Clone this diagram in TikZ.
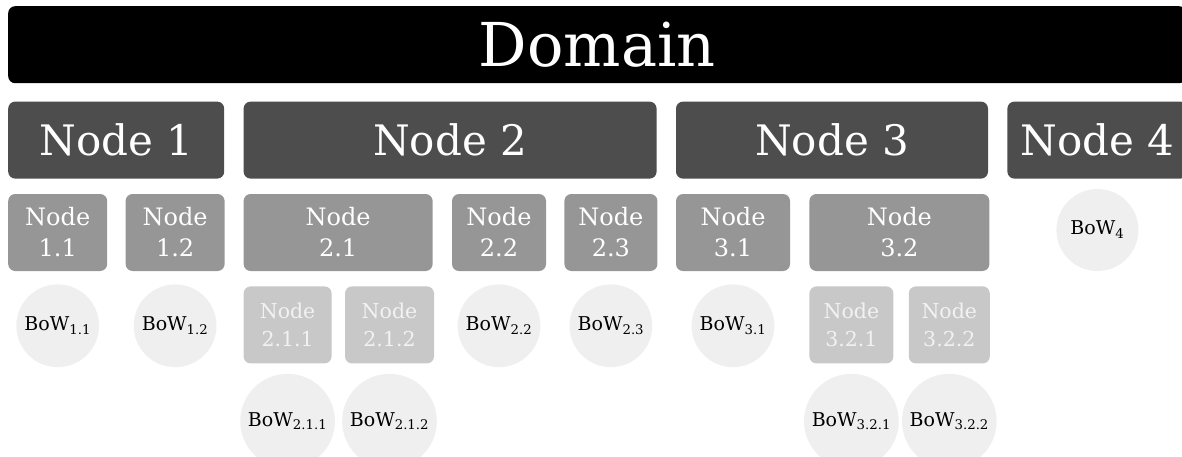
\documentclass[tikz,border=0pt]{standalone}
\usepackage{fontspec}
\setmainfont{DejaVu Serif}
\usetikzlibrary{positioning}

\definecolor{levelone}{HTML}{4D4D4D}
\definecolor{leveltwo}{HTML}{969696}
\definecolor{levelthree}{HTML}{C8C8C8}
\definecolor{leaftext}{HTML}{F2F2F2}
\definecolor{bowfill}{HTML}{EFEFEF}

\begin{document}
\begin{tikzpicture}[
    x=1pt, y=1pt,
    box/.style={rounded corners=7pt, inner sep=2pt, minimum height=77pt,
      align=center, text=white},
    domainbox/.style={box, fill=black, font=\fontsize{60.5}{70}\selectfont},
    lvlone/.style={box, fill=levelone, font=\fontsize{42}{50}\selectfont},
    lvltwo/.style={box, fill=leveltwo, font=\fontsize{24}{31}\selectfont},
    lvlthree/.style={box, fill=levelthree, text=leaftext,
      font=\fontsize{20.5}{27.7}\selectfont},
    bow/.style={circle, fill=bowfill, inner sep=5.5pt, minimum size=82pt,
      font=\fontsize{19}{23}\selectfont},
  ]
  \useasboundingbox (0,0) rectangle (1182,-456);
  \clip (0,0) rectangle (1182,-456);

  \node[domainbox, minimum width=1178pt, anchor=north west] (dom) at (8,-6) {Domain};

  \node[lvlone, minimum width=216pt, below right=18pt and 0pt of dom.south west] (n1) {Node 1};
  \node[lvlone, minimum width=413pt, right=19pt of n1] (n2) {Node 2};
  \node[lvlone, minimum width=312pt, right=19pt of n2] (n3) {Node 3};
  \node[lvlone, minimum width=180pt, right=19pt of n3] (n4) {Node 4};

  \node[lvltwo, minimum width=99pt, below right=15pt and 0pt of n1.south west] (n11) {Node\\1.1};
  \node[lvltwo, minimum width=99pt, right=18pt of n11] (n12) {Node\\1.2};
  \node[lvltwo, minimum width=189pt, below right=15pt and 0pt of n2.south west] (n21) {Node\\2.1};
  \node[lvltwo, minimum width=94pt, right=19pt of n21] (n22) {Node\\2.2};
  \node[lvltwo, minimum width=93pt, right=18pt of n22] (n23) {Node\\2.3};
  \node[lvltwo, minimum width=114pt, below right=15pt and 0pt of n3.south west] (n31) {Node\\3.1};
  \node[lvltwo, minimum width=180pt, right=19pt of n31] (n32) {Node\\3.2};

  \node[lvlthree, minimum width=88pt, below right=15pt and 0pt of n21.south west] (n211) {Node\\2.1.1};
  \node[lvlthree, minimum width=89pt, right=13pt of n211] (n212) {Node\\2.1.2};
  \node[lvlthree, minimum width=84pt, below right=15pt and 0pt of n32.south west] (n321) {Node\\3.2.1};
  \node[lvlthree, minimum width=81pt, right=15pt of n321] (n322) {Node\\3.2.2};

  \node[bow, below=13pt of n11] (b11) {BoW\textsubscript{1.1}};
  \node[bow, below=13pt of n12] (b12) {BoW\textsubscript{1.2}};
  \node[bow, below=13pt of n22] (b22) {BoW\textsubscript{2.2}};
  \node[bow, below=13pt of n23] (b23) {BoW\textsubscript{2.3}};
  \node[bow, below=13pt of n31] (b31) {BoW\textsubscript{3.1}};
  \node[bow, below=10pt of n4] (b4) {BoW\textsubscript{4}};

  \node[bow, below=10pt of n211] (b211) {BoW\textsubscript{2.1.1}};
  \node[bow, below=10pt of n212] (b212) {BoW\textsubscript{2.1.2}};
  \node[bow, below=10pt of n321] (b321) {BoW\textsubscript{3.2.1}};
  \node[bow, below=10pt of n322] (b322) {BoW\textsubscript{3.2.2}};
\end{tikzpicture}
\end{document}
